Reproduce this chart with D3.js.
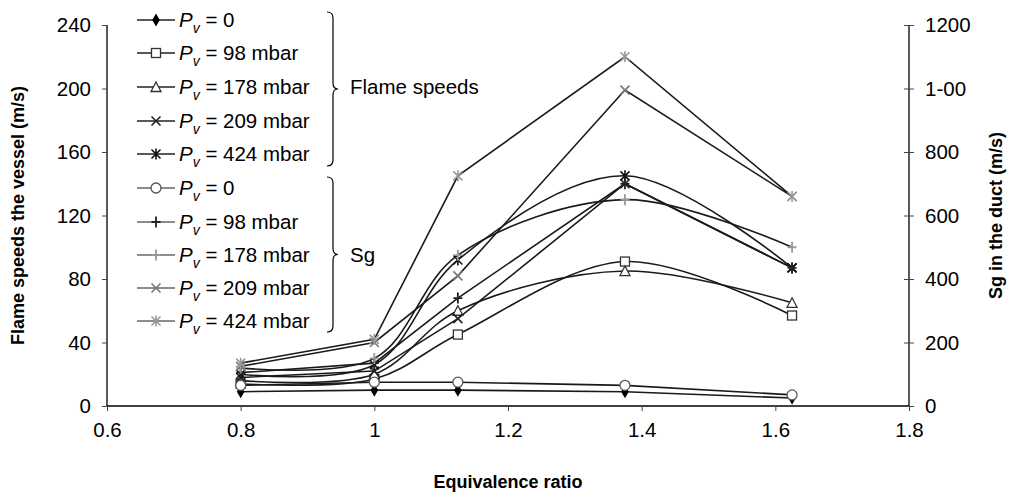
<!DOCTYPE html>
<html><head><meta charset="utf-8">
<script src="https://cdn.jsdelivr.net/npm/d3@7"></script>
<style>body{margin:0;background:#fff}svg{font-family:"Liberation Sans",Arial,sans-serif}</style>
</head><body><svg id="c" width="1015" height="497"></svg>
<script>
const phi = [0.8, 1.0, 1.125, 1.375, 1.625];
const xTicks = [0.6, 0.8, 1, 1.2, 1.4, 1.6, 1.8];
const yLeftTicks = [0, 40, 80, 120, 160, 200, 240];
const yRightTicks = [0, 200, 400, 600, 800, 1000, 1200];
const yRightLabels = ["0", "200", "400", "600", "800", "1-00", "1200"];
const legendLabels = ["0", "98 mbar", "178 mbar", "209 mbar", "424 mbar"];
// Flame speeds in the vessel (left axis, m/s)
const flame0 = [9, 10, 10, 9, 5];
const flame98 = [14, 17, 45, 91, 57];
const flame178 = [16, 20, 60, 85, 65];
const flame209 = [18, 22, 55, 140, 87];
const flame424 = [20, 26, 92, 145, 87];
// Sg in the duct (right axis, m/s)
const sg0 = [65, 75, 75, 65, 35];
const sg98 = [105, 135, 340, 700, 435];
const sg178 = [120, 150, 475, 650, 500];
const sg209 = [125, 200, 410, 995, 660];
const sg424 = [135, 210, 725, 1100, 660];

const svg = d3.select("#c");
const L = 107, R = 909, T = 25, B = 406;
const FS = 20.5;
const x = d3.scaleLinear().domain([0.6, 1.8]).range([L, R]);
const yL = d3.scaleLinear().domain([0, 240]).range([B, T]);
const yR = d3.scaleLinear().domain([0, 1200]).range([B, T]);

const series = [
  {v: flame0, y: yL, m: "diamond", c: "#000", smooth: false},
  {v: flame98, y: yL, m: "square", c: "#333", smooth: true},
  {v: flame178, y: yL, m: "triangle", c: "#333", smooth: true},
  {v: flame209, y: yL, m: "x", c: "#222", smooth: false},
  {v: flame424, y: yL, m: "star", c: "#111", smooth: true},
  {v: sg0, y: yR, m: "circle", c: "#555", smooth: false},
  {v: sg98, y: yR, m: "plus", c: "#222", smooth: false},
  {v: sg178, y: yR, m: "plus", c: "#999", smooth: true},
  {v: sg209, y: yR, m: "x", c: "#777", smooth: false},
  {v: sg424, y: yR, m: "star", c: "#999", smooth: false},
];

function marker(g, type, cx, cy, col) {
  const s = 4.5;
  if (type === "diamond") {
    g.append("path").attr("d", d3.symbol(d3.symbolDiamond, 50)()).attr("transform", `translate(${cx},${cy})`).attr("fill", col);
  } else if (type === "square") {
    g.append("rect").attr("x", cx - 4.5).attr("y", cy - 4.5).attr("width", 9).attr("height", 9).attr("fill", "#fff").attr("stroke", col).attr("stroke-width", 1.3);
  } else if (type === "triangle") {
    g.append("path").attr("d", `M${cx},${cy-5}L${cx+5},${cy+4.5}L${cx-5},${cy+4.5}Z`).attr("fill", "#fff").attr("stroke", col).attr("stroke-width", 1.3);
  } else if (type === "circle") {
    g.append("circle").attr("cx", cx).attr("cy", cy).attr("r", 5).attr("fill", "#fff").attr("stroke", col).attr("stroke-width", 1.3);
  } else if (type === "x") {
    g.append("path").attr("d", `M${cx-s},${cy-s}L${cx+s},${cy+s}M${cx-s},${cy+s}L${cx+s},${cy-s}`).attr("stroke", col).attr("stroke-width", 1.6);
  } else if (type === "plus") {
    g.append("path").attr("d", `M${cx-s},${cy}L${cx+s},${cy}M${cx},${cy-s-1}L${cx},${cy+s+1}`).attr("stroke", col).attr("stroke-width", 1.8);
  } else if (type === "star") {
    g.append("path").attr("d", `M${cx-s},${cy-s}L${cx+s},${cy+s}M${cx-s},${cy+s}L${cx+s},${cy-s}M${cx},${cy-s-1}L${cx},${cy+s+1}`).attr("stroke", col).attr("stroke-width", 1.6);
  }
}

// axes
const gx = svg.append("g").attr("transform", `translate(0,${B})`)
  .call(d3.axisBottom(x).tickValues(xTicks).tickFormat(d3.format("")).tickSize(5).tickPadding(11));
const gl = svg.append("g").attr("transform", `translate(${L},0)`)
  .call(d3.axisLeft(yL).tickValues(yLeftTicks).tickSize(5).tickPadding(11));
const gr = svg.append("g").attr("transform", `translate(${R},0)`)
  .call(d3.axisRight(yR).tickValues(yRightTicks).tickFormat((d, i) => yRightLabels[i]).tickSize(5).tickPadding(11));
gr.selectAll(".tick line").attr("x1", -5);
[gx, gl, gr].forEach(g => {
  g.select(".domain").attr("stroke", "#000").attr("stroke-width", 1.3);
  g.selectAll(".tick line").attr("stroke", "#444");
  g.selectAll(".tick text").attr("font-size", FS).attr("fill", "#000").attr("font-family", "Liberation Sans, Arial, sans-serif");
});
gx.select(".domain").attr("d", `M${L},0H${R}`);
gl.select(".domain").attr("d", `M0,${B}V${T}`);
gr.select(".domain").attr("d", `M0,${B}V${T}`);

// lines
const plot = svg.append("g");
series.forEach(s => {
  const line = d3.line().x((d, i) => x(phi[i])).y(d => s.y(d))
    .curve(s.smooth ? d3.curveCatmullRom.alpha(0.5) : d3.curveLinear);
  plot.append("path").datum(s.v).attr("d", line).attr("fill", "none").attr("stroke", "#1a1a1a").attr("stroke-width", 1.6);
});
series.forEach(s => {
  s.v.forEach((d, i) => marker(plot, s.m, x(phi[i]), s.y(d), s.c));
});

// legend
const leg = svg.append("g");
const rowY = [20, 53, 87, 121, 154, 188, 222, 255, 288, 321];
series.forEach((s, i) => {
  const yy = rowY[i];
  leg.append("line").attr("x1", 137).attr("x2", 175).attr("y1", yy).attr("y2", yy).attr("stroke", i < 5 ? "#222" : "#666").attr("stroke-width", 1.5);
  marker(leg, s.m, 156, yy, s.c);
  const t = leg.append("text").attr("x", 179).attr("y", yy + 7).attr("font-size", FS).attr("fill", "#000");
  t.append("tspan").attr("font-style", "italic").text("P");
  t.append("tspan").attr("font-style", "italic").attr("font-size", 14).attr("dy", 6).text("v");
  t.append("tspan").attr("dy", -6).text(" = " + legendLabels[i % 5]);
});
function brace(y0, y1, xb) {
  const m = (y0 + y1) / 2;
  return `M${xb - 6},${y0} Q${xb},${y0} ${xb},${y0 + 6} L${xb},${m - 6} Q${xb},${m} ${xb + 5},${m} Q${xb},${m} ${xb},${m + 6} L${xb},${y1 - 6} Q${xb},${y1} ${xb - 6},${y1}`;
}
leg.append("path").attr("d", brace(12, 166, 333)).attr("fill", "none").attr("stroke", "#000").attr("stroke-width", 1.2);
leg.append("path").attr("d", brace(177, 332, 333)).attr("fill", "none").attr("stroke", "#000").attr("stroke-width", 1.2);
leg.append("text").attr("x", 350).attr("y", 94).attr("font-size", FS).text("Flame speeds");
leg.append("text").attr("x", 350).attr("y", 262).attr("font-size", FS).text("Sg");

// titles
svg.append("text").attr("x", (L + R) / 2).attr("y", 488).attr("text-anchor", "middle").attr("font-size", 18).attr("font-weight", "bold").text("Equivalence ratio");
svg.append("text").attr("transform", `translate(24,${(T + B) / 2}) rotate(-90)`).attr("text-anchor", "middle").attr("font-size", 18).attr("font-weight", "bold").text("Flame speeds the vessel (m/s)");
svg.append("text").attr("transform", `translate(1002,${(T + B) / 2}) rotate(-90)`).attr("text-anchor", "middle").attr("font-size", 18).attr("font-weight", "bold").text("Sg in the duct (m/s)");
</script></body></html>
